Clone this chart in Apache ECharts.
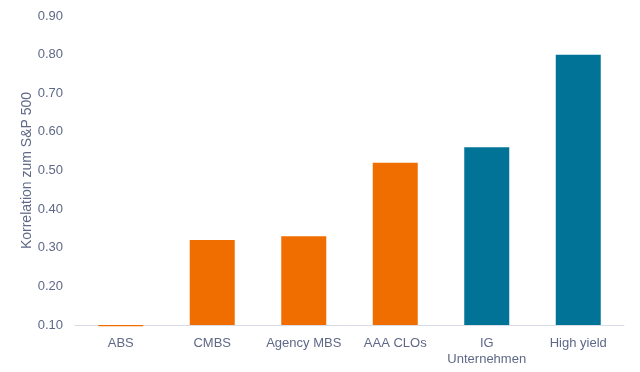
<!DOCTYPE html>
<html><head><meta charset="utf-8">
<script src="https://cdn.jsdelivr.net/npm/echarts@6/dist/echarts.min.js"></script>
<style>html,body{margin:0;padding:0;background:#fff}#c{width:640px;height:372px}</style>
</head><body><div id="c"></div>
<script>
const categories = ['ABS', 'CMBS', 'Agency MBS', 'AAA CLOs', 'IG\nUnternehmen', 'High yield'];
const values = [0.097, 0.32, 0.33, 0.52, 0.56, 0.80];
const groups = ['orange', 'orange', 'orange', 'orange', 'teal', 'teal'];
const yTicks = { min: 0.1, max: 0.9, step: 0.1 };
const axisTitle = 'Korrelation zum S&P 500';

const palette = { orange: '#f06e00', teal: '#007396' };
const textColor = '#5f6987';
const font = 'Liberation Sans, Arial, sans-serif';

const chart = echarts.init(document.getElementById('c'));
chart.setOption({
  animation: false,
  grid: { left: 75, right: 16, top: 16, bottom: 47 },
  xAxis: {
    type: 'category',
    data: categories,
    axisLine: { lineStyle: { color: '#d9dce6', width: 1 } },
    axisTick: { show: false },
    axisLabel: { color: textColor, fontSize: 13, fontFamily: font, margin: 10, lineHeight: 16, interval: 0 }
  },
  yAxis: {
    type: 'value',
    min: yTicks.min, max: yTicks.max, interval: yTicks.step,
    startValue: yTicks.min,
    name: axisTitle,
    nameLocation: 'middle',
    nameGap: 41,
    nameMoveOverlap: false,
    nameTextStyle: { color: textColor, fontSize: 14, fontFamily: font },
    axisLine: { show: false },
    axisTick: { show: false },
    splitLine: { show: false },
    axisLabel: { color: textColor, fontSize: 13, fontFamily: font, margin: 12, formatter: v => v.toFixed(2) }
  },
  series: [{
    type: 'bar',
    barWidth: 45,
    clip: false,
    data: values.map((v, i) => ({ value: v, itemStyle: { color: palette[groups[i]] } }))
  }]
});
</script></body></html>
